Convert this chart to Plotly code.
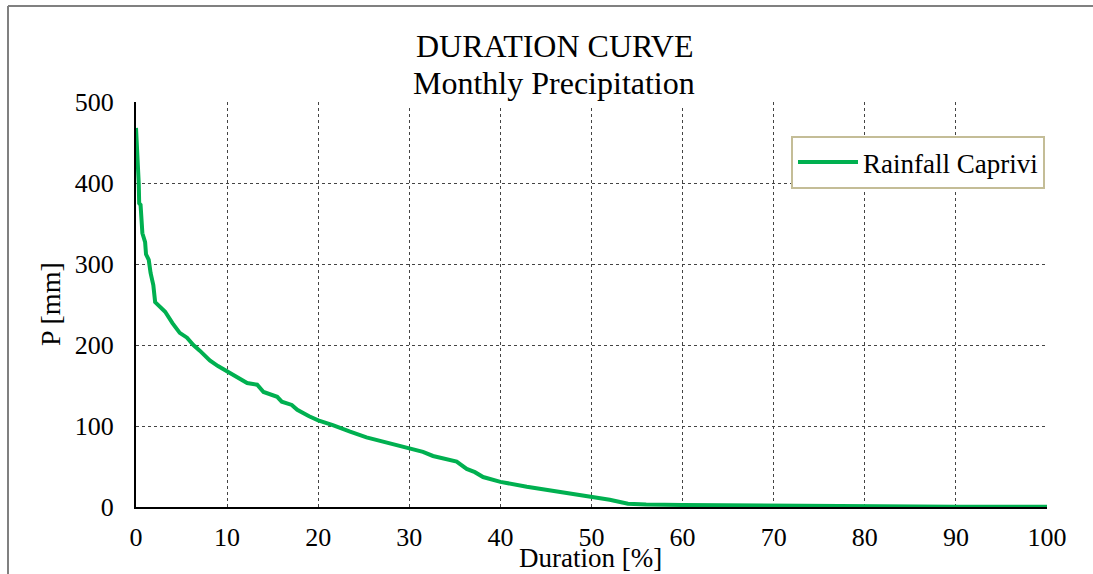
import plotly.graph_objects as go

duration = [0, 0.15, 0.2, 0.3, 0.35, 0.5, 0.7, 1.0, 1.1, 1.4, 1.6, 1.9, 2.1, 2.5, 3.2, 4.0, 4.8, 5.6,
            6.3, 7.0, 8.1, 9.0, 10.1, 11.0, 12.2, 13.3, 14.0, 15.5, 16.0, 17.1, 17.7, 19.0, 20.0,
            21.6, 22.5, 23.5, 25.3, 27.5, 30.0, 31.5, 32.6, 34.0, 35.2, 36.3, 37.2, 38.1, 40.0,
            42.9, 45.1, 48.0, 49.8, 52.0, 54.0, 56.0, 60.0, 65, 72, 73, 81, 83, 90, 100]
precip = [468, 440, 428, 400, 375, 373, 338, 327, 312, 305, 289, 274, 253, 248, 241, 227, 215, 209,
          200, 193, 181, 174, 167, 160, 153, 151, 142, 136, 130, 126, 120, 112, 107,
          101, 97, 93, 86, 80, 72.5, 68, 63, 59, 56, 47, 43, 37, 31,
          25, 21, 16, 12, 9, 4, 3, 2.5, 2, 2, 1.5, 1.3, 0.3, 0.3, 0.3]

series_name = "Rainfall Caprivi"
title_lines = ["DURATION CURVE", "Monthly Precipitation"]
x_ticks = [0, 10, 20, 30, 40, 50, 60, 70, 80, 90, 100]
y_ticks = [0, 100, 200, 300, 400, 500]

FONT = "Liberation Serif"
L, R, T, B = 136, 46, 102, 67
W, H = 1093, 574
pw, ph = W - L - R, H - T - B

def px2x(px):
    return (px - L) / pw

def py2y(py):
    return (H - B - py) / ph

fig = go.Figure()
fig.add_trace(go.Scatter(x=duration, y=precip, mode="lines", name=series_name,
                         line=dict(color="#00B050", width=4)))

grid = dict(showgrid=True, gridcolor="#444444", gridwidth=1, griddash="3px,3px",
            showline=True, linecolor="black", linewidth=2, zeroline=False,
            ticks="", tickfont=dict(family=FONT, size=26, color="black"))

fig.update_xaxes(range=[0, 100], tickvals=x_ticks, ticklabelstandoff=6, **grid)
fig.update_yaxes(range=[0, 500], tickvals=y_ticks, ticklabelstandoff=15, **grid)

fig.update_layout(
    width=W, height=H,
    margin=dict(l=L, r=R, t=T, b=B, autoexpand=False),
    paper_bgcolor="white", plot_bgcolor="white",
    font=dict(family=FONT, color="black"),
    showlegend=True,
    legend=dict(x=px2x(791), y=py2y(136), xanchor="left", yanchor="top",
                bgcolor="white", bordercolor="#C4BD97", borderwidth=2,
                itemwidth=60,
                font=dict(family=FONT, size=27, color="black")),
    annotations=[
        dict(text=title_lines[1], xref="paper", yref="paper",
             x=px2x(554), y=py2y(108), xanchor="center", yanchor="bottom",
             showarrow=False, bgcolor="white", borderpad=6,
             font=dict(family=FONT, size=32, color="black")),
        dict(text=title_lines[0], xref="paper", yref="paper",
             x=px2x(554), y=py2y(46), xanchor="center", yanchor="middle",
             showarrow=False,
             font=dict(family=FONT, size=32, color="black")),
        dict(text="P [mm]", xref="paper", yref="paper", x=px2x(50), y=py2y(304),
             xanchor="center", yanchor="middle", textangle=-90, showarrow=False,
             font=dict(family=FONT, size=28, color="black")),
        dict(text="Duration [%]", xref="paper", yref="paper", x=px2x(590), y=py2y(558),
             xanchor="center", yanchor="middle", showarrow=False,
             font=dict(family=FONT, size=27, color="black")),
    ],
    shapes=[
        dict(type="line", xref="paper", yref="paper", x0=px2x(8), x1=px2x(1093),
             y0=py2y(6), y1=py2y(6), line=dict(color="#808080", width=2)),
        dict(type="line", xref="paper", yref="paper", x0=px2x(8), x1=px2x(8),
             y0=py2y(6), y1=py2y(580), line=dict(color="#808080", width=2)),
    ],
)

fig.write_html("out.html")
